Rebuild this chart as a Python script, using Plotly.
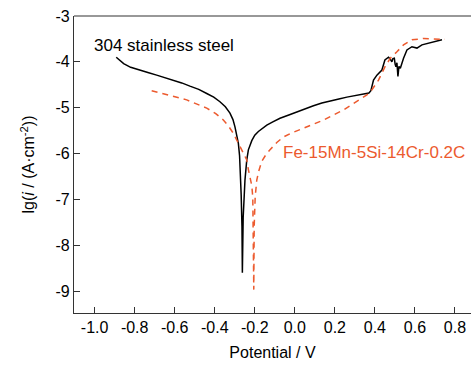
import plotly.graph_objects as go

# 304 stainless steel (black solid)
ss_E = [-0.892, -0.875, -0.855, -0.82, -0.774, -0.73, -0.69, -0.65, -0.607, -0.565, -0.524, -0.48,
        -0.44, -0.405, -0.374, -0.347, -0.324, -0.309, -0.299, -0.289, -0.282, -0.276, -0.272,
        -0.268, -0.264, -0.262, -0.258, -0.253, -0.249, -0.24, -0.232, -0.215, -0.2, -0.182, -0.16,
        -0.14, -0.11, -0.074, -0.03, 0.01, 0.05, 0.093, 0.135, 0.177, 0.22, 0.26, 0.3, 0.343, 0.37,
        0.38, 0.385, 0.393, 0.41, 0.435, 0.45, 0.468, 0.478,
        0.485, 0.49, 0.497, 0.501, 0.505, 0.51, 0.515, 0.52, 0.527, 0.543, 0.56, 0.585, 0.61, 0.635,
        0.676, 0.735]
ss_lg = [-3.90, -3.97, -4.04, -4.12, -4.19, -4.24, -4.29, -4.34, -4.40, -4.46, -4.53, -4.60,
         -4.69, -4.77, -4.87, -4.98, -5.12, -5.26, -5.42, -5.60, -5.78, -6.05, -6.35,
         -6.9, -7.6, -8.60, -7.4, -6.9, -6.58, -6.14, -5.92, -5.72, -5.60, -5.52, -5.44,
         -5.38, -5.31, -5.23, -5.16, -5.09, -5.02, -4.96, -4.90, -4.85, -4.81, -4.77, -4.74, -4.71, -4.68,
         -4.63, -4.55, -4.40, -4.29, -4.18, -3.96, -3.90, -3.95,
         -4.00, -3.93, -3.92, -4.05, -4.11, -4.02, -4.32, -4.10, -4.14, -3.92, -3.74, -3.67, -3.70, -3.63,
         -3.58, -3.52]

# Fe-15Mn-5Si-14Cr-0.2C (orange dashed)
fe_E = [-0.715, -0.64, -0.54, -0.44, -0.395, -0.357, -0.33, -0.307, -0.29, -0.274, -0.257, -0.24,
        -0.232, -0.222, -0.215, -0.21, -0.207, -0.205, -0.203, -0.198, -0.19, -0.18, -0.165, -0.145,
        -0.124, -0.09, -0.057, -0.01, 0.043, 0.143, 0.243,
        0.31, 0.36, 0.385, 0.418, 0.45, 0.477, 0.51, 0.543, 0.585, 0.643, 0.75]
fe_lg = [-4.63, -4.72, -4.83, -5.01, -5.13, -5.27, -5.41, -5.56, -5.70, -5.85, -6.00, -6.14,
         -6.35, -6.55, -6.70, -6.95, -8.03, -8.97, -7.6, -6.95, -6.58, -6.38, -6.17, -6.03,
         -5.92, -5.76, -5.64, -5.54, -5.45, -5.27, -5.05,
         -4.87, -4.72, -4.61, -4.40, -4.11, -3.92, -3.78, -3.63, -3.52, -3.49, -3.51]

x_ticks = [-1.0, -0.8, -0.6, -0.4, -0.2, 0.0, 0.2, 0.4, 0.6, 0.8]
y_ticks = [-3, -4, -5, -6, -7, -8, -9]

orange = "#ec5a2e"
font_family = "Liberation Sans, Arial, sans-serif"

fig = go.Figure()
fig.add_trace(go.Scatter(x=ss_E, y=ss_lg, mode="lines",
                         line=dict(color="black", width=1.5), showlegend=False))
fig.add_trace(go.Scatter(x=fe_E, y=fe_lg, mode="lines",
                         line=dict(color=orange, width=1.5, dash="6px,5px"), showlegend=False))

fig.add_annotation(x=0.045, y=0.902, xref="paper", yref="paper", text="304 stainless steel",
                   showarrow=False, xanchor="left", yanchor="middle",
                   font=dict(size=17, color="black", family=font_family))
fig.add_annotation(x=0.521, y=0.539, xref="paper", yref="paper", text="Fe-15Mn-5Si-14Cr-0.2C",
                   showarrow=False, xanchor="left", yanchor="middle",
                   font=dict(size=17, color=orange, family=font_family))

# top border line
fig.add_shape(type="line", xref="paper", yref="paper", x0=0, x1=1, y0=1, y1=1,
              line=dict(color="#333333", width=1.2))

fig.update_layout(
    width=471, height=365,
    margin=dict(l=74, r=0, t=16, b=52),
    paper_bgcolor="white", plot_bgcolor="white",
    font=dict(family=font_family, size=16, color="black"),
    xaxis=dict(range=[-1.103, 0.88], tickvals=x_ticks, ticktext=[f"{v:.1f}" for v in x_ticks],
               ticks="inside", ticklen=6, tickcolor="#333333", showline=True,
               linecolor="#333333", linewidth=1.2, showgrid=False, zeroline=False,
               title=dict(text="Potential / V", standoff=11, font=dict(size=16)),
               tickfont=dict(size=16)),
    yaxis=dict(range=[-9.48, -3], tickvals=y_ticks, ticktext=[str(v) for v in y_ticks],
               ticks="inside", ticklen=6, tickcolor="#333333", showline=True,
               linecolor="#333333", linewidth=1.2, showgrid=False, zeroline=False,
               title=dict(text="lg(<i>i</i> / (A·cm<sup>-2</sup>))", standoff=16, font=dict(size=16)),
               tickfont=dict(size=16)),
)

fig.write_html("out.html")
